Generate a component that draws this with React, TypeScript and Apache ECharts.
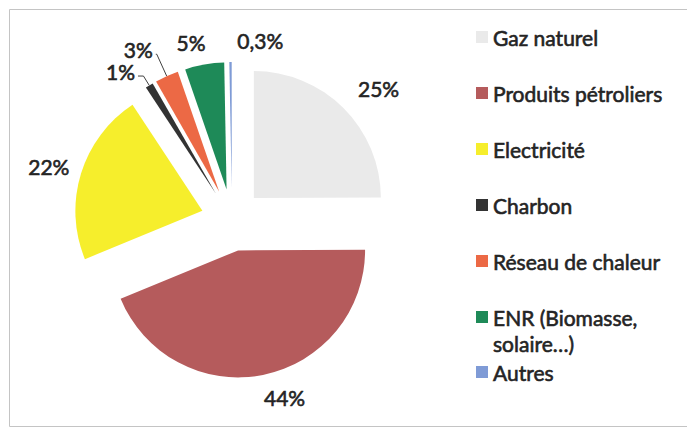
import React, { useEffect, useRef } from 'react';
import * as echarts from 'echarts';

const categories = [
  'Gaz naturel',
  'Produits pétroliers',
  'Electricité',
  'Charbon',
  'Réseau de chaleur',
  'ENR (Biomasse, solaire…)',
  'Autres',
];
const shares = [25, 44, 22, 1, 3, 5, 0.3];
const colors = ['#eaeaea', '#b55b5c', '#f6ee2c', '#333333', '#ec6945', '#1e8a58', '#7f9bd6'];

// label styling per slice
const labelLineShow = [false, false, false, true, true, false, false];
const labelLineLen = [22, 25.5, 10, 11, 24, 22.7, 22];
const labelLineLen2 = [0, 0, 0, 5.5, 1, 0, 0];
const labelDist = [5, 5, 5, 3, 3, 0, 5];
const labelNudge = [[-6, -4], [-9, -2], [3, -4], [0, -5], [0, -5], [5, 0], [58, 0]];

const FONT = 'Lato';
const TEXT_COLOR = '#242424';
const TEXT_STROKE = 0.6;

export default function App() {
  const ref = useRef<HTMLDivElement>(null);
  useEffect(() => {
    document.body.style.margin = '0';
    const chart = echarts.init(ref.current as HTMLDivElement, null, { renderer: 'svg' });
    const legendText = {
      fontFamily: FONT,
      fontSize: 21,
      color: TEXT_COLOR,
      lineHeight: 26,
      textBorderColor: TEXT_COLOR,
      textBorderWidth: TEXT_STROKE,
    };
    const legendBase = {
      orient: 'vertical',
      left: 476,
      itemWidth: 12,
      itemHeight: 12,
      itemGap: 30,
      padding: 0,
      icon: 'rect',
      selectedMode: false,
      textStyle: legendText,
    };
    chart.setOption({
      animation: false,
      backgroundColor: '#ffffff',
      graphic: [
        {
          type: 'rect',
          shape: { x: 9.5, y: 9.5, width: 700, height: 417 },
          style: { fill: 'none', stroke: '#c4c4c4', lineWidth: 1 },
          silent: true,
        },
      ],
      legend: [
        { ...legendBase, top: 24, data: categories.slice(0, 5) },
        {
          ...legendBase,
          top: 278,
          data: [categories[5]],
          formatter: () => '\nENR (Biomasse,\nsolaire…)',
        },
        { ...legendBase, top: 359, data: [categories[6]] },
      ],
      series: [
        {
          type: 'pie',
          center: [232, 220],
          radius: 127,
          startAngle: 90,
          clockwise: true,
          selectedMode: 'multiple',
          selectedOffset: 31,
          avoidLabelOverlap: false,
          emphasis: { disabled: true },
          label: {
            show: true,
            position: 'outside',
            fontFamily: FONT,
            fontSize: 21,
            color: TEXT_COLOR,
            textBorderColor: TEXT_COLOR,
            textBorderWidth: TEXT_STROKE,
            formatter: (p: any) => String(p.value).replace('.', ',') + '%',
          },
          labelLine: { smooth: false, lineStyle: { color: '#404040', width: 1 } },
          labelLayout: (p: any) => ({
            dx: labelNudge[p.dataIndex][0],
            dy: labelNudge[p.dataIndex][1],
          }),
          data: categories.map((name, i) => ({
            name,
            value: shares[i],
            selected: true,
            itemStyle: { color: colors[i] },
            label: { distanceToLabelLine: labelDist[i] },
            labelLine: {
              show: labelLineShow[i],
              length: labelLineLen[i],
              length2: labelLineLen2[i],
            },
          })),
        },
      ],
    });
    return () => chart.dispose();
  }, []);
  return <div ref={ref} style={{ width: 687, height: 429, background: '#fff' }} />;
}
